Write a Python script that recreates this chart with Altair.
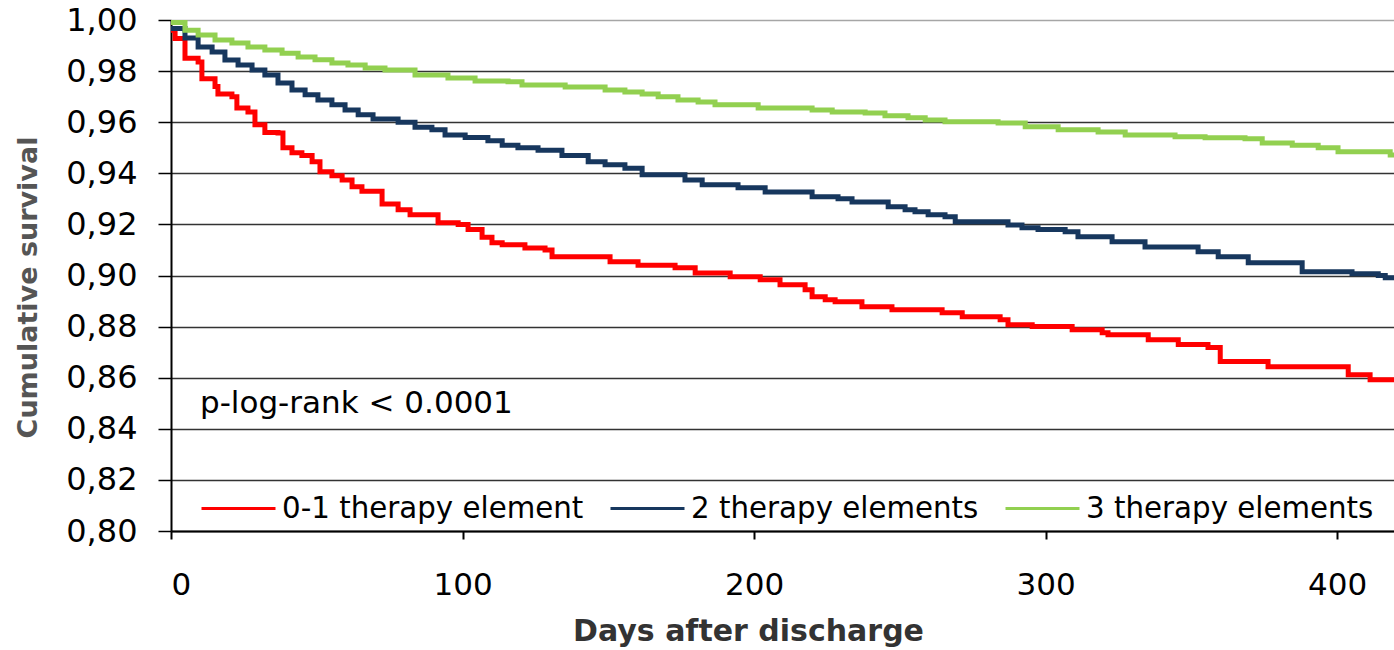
import altair as alt
import pandas as pd

GROUPS = ["0-1 therapy element", "2 therapy elements", "3 therapy elements"]
COLORS = ["#FF0000", "#17375E", "#92D050"]

red_days = [0, 1.4, 4.8, 9.3, 10.6, 15.1, 16.1, 20.9, 22.6, 26.4, 28.8, 32.2, 36.7, 38.4, 41.5,
            44.9, 48.4, 51.1, 55.2, 58.7, 62.1, 65.5, 72.4, 77.9, 82.0, 91.6, 98.5, 101.9, 106.7,
            110.1, 113.6, 121.4, 128.3, 130.7, 150.6, 160.2, 172.9, 179.8, 191.8, 202.1, 208.9,
            217.5, 219.9, 224.4, 227.8, 237.0, 247.3, 264.5, 271.4, 284.4, 287.1, 295.4, 309.1,
            319.4, 321.4, 335.2, 345.5, 355.7, 359.9, 376.3, 403.8, 411.3, 419.5]
red_surv = [0.996, 0.9928, 0.985, 0.9836, 0.977, 0.974, 0.971, 0.970, 0.9656, 0.964, 0.959, 0.956,
            0.9558, 0.950, 0.948, 0.947, 0.9445, 0.9406, 0.939, 0.9374, 0.9347, 0.933, 0.928,
            0.9257, 0.9238, 0.9206, 0.920, 0.918, 0.915, 0.9128, 0.912, 0.9108, 0.910, 0.9073,
            0.9054, 0.904, 0.903, 0.901, 0.8995, 0.8983, 0.8964, 0.8944, 0.8917, 0.8905, 0.8897,
            0.8878, 0.8866, 0.8854, 0.8839, 0.8827, 0.8807, 0.880, 0.8788, 0.8776, 0.8768,
            0.8749, 0.873, 0.8718, 0.8663, 0.8643, 0.8612, 0.8592, 0.8592]

blue_days = [0, 4.8, 9.3, 14.1, 18.5, 23.0, 27.8, 32.2, 36.7, 41.5, 46.0, 50.4, 55.2, 59.7, 64.2,
             69.3, 77.9, 83.7, 89.5, 94.0, 100.9, 108.7, 113.6, 119.0, 125.9, 134.1, 143.1, 148.9,
             155.7, 161.6, 176.3, 182.2, 194.5, 203.8, 219.9, 228.8, 233.6, 246.0, 251.8, 255.2,
             259.7, 265.5, 269.0, 287.1, 291.9, 297.4, 306.7, 311.1, 322.8, 334.1, 352.3, 359.2,
             369.5, 388.0, 405.1, 414.1, 416.5, 419.5]
blue_surv = [0.9967, 0.993, 0.9894, 0.9875, 0.9843, 0.9824, 0.9804, 0.9785, 0.9753, 0.9726, 0.9707,
             0.9687, 0.9668, 0.9648, 0.9629, 0.9613, 0.960, 0.958, 0.957, 0.955, 0.954, 0.9527,
             0.951, 0.950, 0.949, 0.947, 0.9445, 0.9433, 0.942, 0.9394, 0.9374, 0.9355, 0.9343,
             0.9327, 0.9308, 0.930, 0.9288, 0.9269, 0.9257, 0.925, 0.9238, 0.923, 0.921, 0.9198,
             0.9187, 0.918, 0.9171, 0.9152, 0.9132, 0.9112, 0.9093, 0.9073, 0.905, 0.9015, 0.9007,
             0.900, 0.8991, 0.8991]

green_days = [0, 4.8, 9.3, 15.1, 20.9, 26.4, 32.2, 38.1, 43.6, 49.4, 55.2, 60.7, 66.6, 73.4, 83.7,
              95.0, 104.3, 115.6, 120.4, 135.2, 148.9, 155.7, 161.6, 167.1, 173.9, 180.8, 186.6,
              201.4, 219.9, 226.8, 238.1, 244.9, 252.8, 258.7, 265.5, 283.7, 293.0, 304.3, 318.0,
              327.3, 344.4, 354.7, 368.4, 374.3, 384.6, 393.5, 400.3, 418.2, 419.5]
green_surv = [0.999, 0.996, 0.9941, 0.9922, 0.991, 0.9894, 0.9883, 0.987, 0.9855, 0.9844, 0.9832,
              0.9824, 0.9812, 0.9804, 0.9785, 0.9773, 0.9761, 0.9758, 0.9746, 0.9738, 0.9726,
              0.9718, 0.971, 0.970, 0.9687, 0.9679, 0.9668, 0.9656, 0.9648, 0.964, 0.9636, 0.9625,
              0.9617, 0.9609, 0.9602, 0.9597, 0.9582, 0.957, 0.9562, 0.955, 0.9543, 0.9539,
              0.9535, 0.9519, 0.951, 0.950, 0.9484, 0.9472, 0.9472]

X_TICKS = [0, 100, 200, 300, 400]
Y_TICKS = [0.80, 0.82, 0.84, 0.86, 0.88, 0.90, 0.92, 0.94, 0.96, 0.98, 1.00]
X_DOMAIN = [0, 419.5]
Y_DOMAIN = [0.80, 1.00]
ANNOTATION = "p-log-rank < 0.0001"

rows = []
for g, ds, vs in zip(GROUPS, [red_days, blue_days, green_days], [red_surv, blue_surv, green_surv]):
    for i, (d, v) in enumerate(zip(ds, vs)):
        rows.append({"group": g, "day": d, "surv": v, "order": i})
df = pd.DataFrame(rows)

FONT = "DejaVu Sans"

lines = alt.Chart(df).mark_line(interpolate="step-after", strokeWidth=5, clip=True).encode(
    x=alt.X("day:Q", scale=alt.Scale(domain=X_DOMAIN, nice=False, zero=False),
            axis=alt.Axis(values=X_TICKS, format="d", grid=False, tickSize=8, tickWidth=2,
                          tickColor="#000", domainColor="#000", domainWidth=2,
                          labelFont=FONT, labelFontSize=31, labelColor="#000", labelPadding=31,
                          title="Days after discharge", titleFont=FONT, titleFontSize=30,
                          titleFontWeight="bold", titleColor="#333", titleX=577, titleY=109,
                          titleAlign="center", titleBaseline="alphabetic")),
    y=alt.Y("surv:Q", scale=alt.Scale(domain=Y_DOMAIN, nice=False, zero=False),
            axis=alt.Axis(values=Y_TICKS, labelExpr="replace(format(datum.value, '.2f'), '.', ',')",
                          grid=True, gridWidth=1.5,
                          gridColor={"condition": {"test": "datum.value >= 0.999", "value": "#a6a6a6"},
                                     "value": "#333333"},
                          tickSize=13, tickWidth=1.5, tickColor="#000", domainColor="#000",
                          domainWidth=2, labelFont=FONT, labelFontSize=32, labelColor="#000",
                          labelPadding=21, title="Cumulative survival", titleFont=FONT,
                          titleFontSize=27, titleFontWeight="bold", titleColor="#555",
                          titleX=-135, titleY=267, titleAlign="center", titleBaseline="alphabetic")),
    color=alt.Color("group:N", scale=alt.Scale(domain=GROUPS, range=COLORS),
                    legend=alt.Legend(orient="none", legendX=29, legendY=450, direction="horizontal",
                                      title=None, symbolType="stroke", symbolSize=5476,
                                      symbolStrokeWidth=3, labelFont=FONT, labelFontSize=29.3,
                                      labelColor="#000", labelLimit=600, labelOffset=5,
                                      columnPadding=20, padding=0)),
    order="order:Q",
)

note = alt.Chart(pd.DataFrame({"t": [ANNOTATION]})).mark_text(
    align="left", baseline="alphabetic", font=FONT, fontSize=31, color="#000"
).encode(x=alt.value(29), y=alt.value(393), text="t:N")

chart = alt.layer(lines, note).properties(
    width=1223, height=511,
    autosize=alt.AutoSizeParams(type="none"),
    padding={"left": 171, "top": 20, "right": 0, "bottom": 119},
    background="white",
).configure_view(strokeWidth=0)

chart.save("out.html", embed_options={"renderer": "svg", "actions": False})
